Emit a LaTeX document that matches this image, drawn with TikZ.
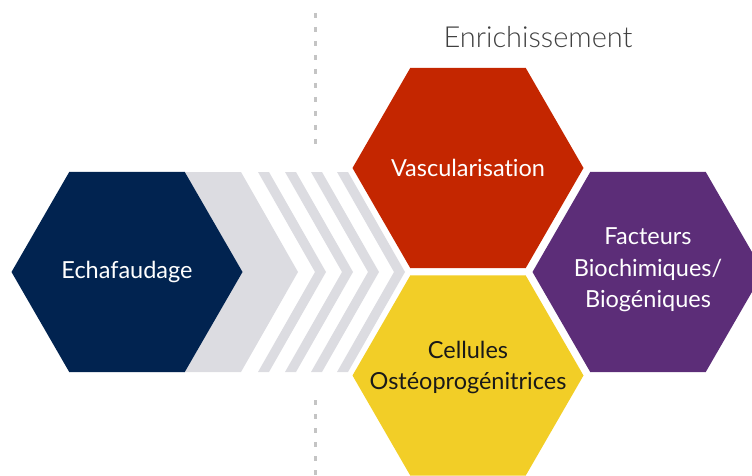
\documentclass[tikz,border=0pt]{standalone}
\usepackage{fontspec}
\setmainfont[Ligatures=NoCommon]{Lato}
\IfFontExistsTF{Lato Light}{\newfontfamily\titlefont[Ligatures=NoCommon]{Lato Light}}{\newfontfamily\titlefont[Ligatures=NoCommon]{Lato}}
\usetikzlibrary{shapes.geometric}
\definecolor{navyc}{HTML}{012350}
\definecolor{redc}{HTML}{C42600}
\definecolor{purplec}{HTML}{5C2D78}
\definecolor{yellowc}{HTML}{F2CE27}
\definecolor{greyc}{HTML}{DCDCE1}
\definecolor{titlec}{HTML}{404040}
\definecolor{dashc}{HTML}{C4C4C4}
\tikzset{
  hexa/.style={regular polygon, regular polygon sides=6, minimum size=231pt, inner sep=0pt, draw=none},
  hextext/.style={align=center, font=\fontsize{23.5}{31.5}\selectfont, inner sep=0pt},
  chev/.style={fill=greyc, draw=none},
  sepline/.style={draw=dashc, line width=3pt, dash pattern=on 5pt off 9pt}
}
\begin{document}
\begin{tikzpicture}[x=1pt,y=-1pt]
\useasboundingbox (0,0) rectangle (752,476);
\clip (0,0) rectangle (752,476);
% dashed separator
\coordinate (d1) at (315,13);
\coordinate (d2) at (315,152);
\coordinate (d3) at (315,400);
\coordinate (d4) at (315,476);
\draw[sepline] (d1) -- (d2);
\draw[sepline] (d3) -- (d4);
% chevrons
\fill[chev] (150,172) -- (241,172) -- (298,272) -- (241,372) -- (150,372) -- cycle;
\foreach \a in {258,285,311,337}{
  \fill[chev] (\a,172) -- (\a+11,172) -- (\a+68,272) -- (\a+11,372) -- (\a,372) -- (\a+57,272) -- cycle;
}
% hexagons
\node[hexa, fill=navyc] (echa) at (127,272) {};
\node[hexa, fill=redc] (vasc) at (468,168) {};
\node[hexa, fill=purplec] (fact) at (648,272) {};
\node[hexa, fill=yellowc] (cell) at (468,375.5) {};
% texts
\node[hextext, text=white] (techa) at (echa.center) {Echafaudage};
\node[hextext, text=white] (tvasc) at (vasc.center) {Vascularisation};
\node[hextext, text=white] (tfact) at ([yshift=2pt]fact.center) {Facteurs\\Biochimiques/\\Biogéniques};
\node[hextext, text=black!90] (tcell) at ([yshift=8pt]cell.center) {Cellules\\Ostéoprogénitrices};
\node[font=\titlefont\fontsize{29}{34}\selectfont, text=titlec, inner sep=0pt] (title) at (538,37) {Enrichissement};
\end{tikzpicture}
\end{document}
